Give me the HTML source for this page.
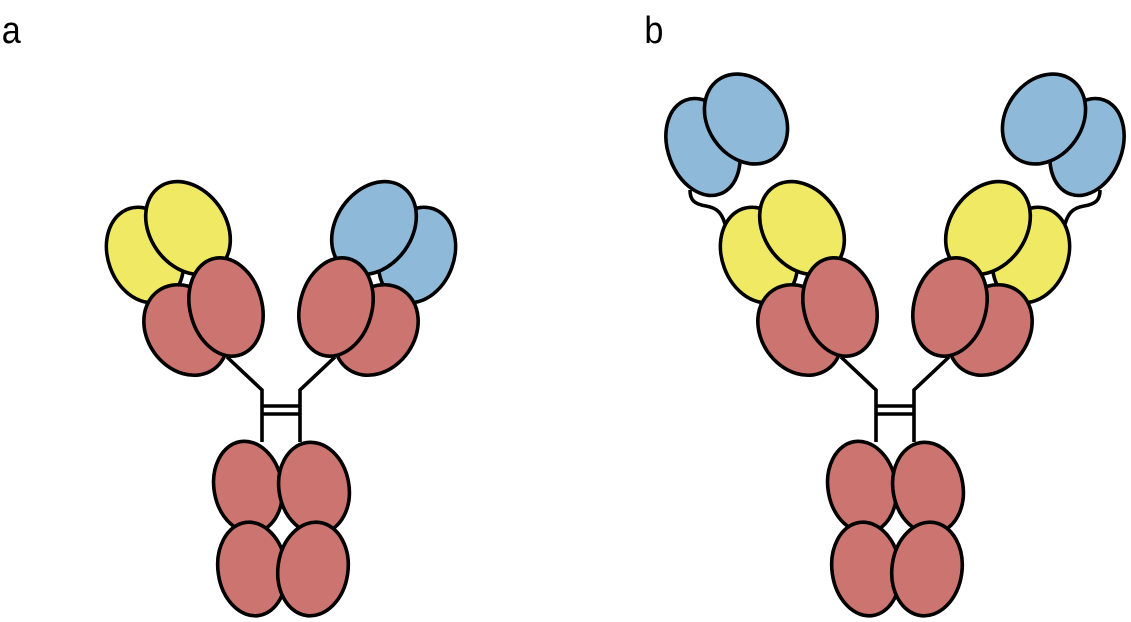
<!DOCTYPE html>
<html><head><style>
html,body{margin:0;padding:0;background:#fff;width:1131px;height:622px;overflow:hidden}
</style></head><body>
<svg width="1131" height="622" viewBox="0 0 1131 622" xmlns="http://www.w3.org/2000/svg">
<defs>
<g id="ab" stroke="#000" stroke-width="3.6" fill="none">
  <path d="M227,357 L262,390 L262,442 M335,357 L300,390 L300,442"/>
  <path d="M262,406 L300,406 M262,414 L300,414"/>
  <ellipse cx="248" cy="487" rx="34" ry="46" transform="rotate(-10 248 487)" fill="#CC7570"/>
  <ellipse cx="314" cy="488" rx="35" ry="46" transform="rotate(-10 314 488)" fill="#CC7570"/>
  <ellipse cx="252" cy="569" rx="34" ry="47" transform="rotate(-8 252 569)" fill="#CC7570"/>
  <ellipse cx="313" cy="569" rx="35" ry="47" transform="rotate(8 313 569)" fill="#CC7570"/>
</g>
</defs>
<text x="2" y="43" font-family="Liberation Sans, sans-serif" font-size="38" fill="#000" transform="scale(0.9 1)">a</text>
<text x="716" y="43" font-family="Liberation Sans, sans-serif" font-size="38" fill="#000" transform="scale(0.9 1)">b</text>

<use href="#ab"/>
<g stroke="#000" stroke-width="3.6">
  <ellipse cx="145" cy="255" rx="37" ry="49" transform="rotate(-20 145 255)" fill="#EFE964"/>
  <ellipse cx="188" cy="228" rx="38" ry="50" transform="rotate(-35 188 228)" fill="#EFE964"/>
  <ellipse cx="186" cy="330" rx="39" ry="48" transform="rotate(-35 186 330)" fill="#CC7570"/>
  <ellipse cx="226" cy="307" rx="36" ry="50" transform="rotate(-15 226 307)" fill="#CC7570"/>
  <ellipse cx="417" cy="255" rx="37" ry="49" transform="rotate(20 417 255)" fill="#8FB9D9"/>
  <ellipse cx="374" cy="228" rx="38" ry="50" transform="rotate(35 374 228)" fill="#8FB9D9"/>
  <ellipse cx="376" cy="330" rx="39" ry="48" transform="rotate(35 376 330)" fill="#CC7570"/>
  <ellipse cx="336" cy="307" rx="36" ry="50" transform="rotate(15 336 307)" fill="#CC7570"/>
</g>

<g transform="translate(614 0)">
<use href="#ab"/>
<g stroke="#000" stroke-width="3.6">
  <path d="M76,190 C76,200 80,204 92,206 C104,208 108,214 111,224" fill="none"/>
  <path d="M486,190 C486,200 482,204 470,206 C458,208 454,214 451,224" fill="none"/>
  <ellipse cx="89" cy="147" rx="35" ry="50" transform="rotate(-20 89 147)" fill="#8FB9D9"/>
  <ellipse cx="132" cy="119" rx="38" ry="48" transform="rotate(-35 132 119)" fill="#8FB9D9"/>
  <ellipse cx="473" cy="147" rx="35" ry="50" transform="rotate(20 473 147)" fill="#8FB9D9"/>
  <ellipse cx="430" cy="119" rx="38" ry="48" transform="rotate(35 430 119)" fill="#8FB9D9"/>

  <ellipse cx="145" cy="255" rx="37" ry="49" transform="rotate(-20 145 255)" fill="#EFE964"/>
  <ellipse cx="188" cy="228" rx="38" ry="50" transform="rotate(-35 188 228)" fill="#EFE964"/>
  <ellipse cx="186" cy="330" rx="39" ry="48" transform="rotate(-35 186 330)" fill="#CC7570"/>
  <ellipse cx="226" cy="307" rx="36" ry="50" transform="rotate(-15 226 307)" fill="#CC7570"/>
  <ellipse cx="417" cy="255" rx="37" ry="49" transform="rotate(20 417 255)" fill="#EFE964"/>
  <ellipse cx="374" cy="228" rx="38" ry="50" transform="rotate(35 374 228)" fill="#EFE964"/>
  <ellipse cx="376" cy="330" rx="39" ry="48" transform="rotate(35 376 330)" fill="#CC7570"/>
  <ellipse cx="336" cy="307" rx="36" ry="50" transform="rotate(15 336 307)" fill="#CC7570"/>
</g>
</g>
</svg>
</body></html>
